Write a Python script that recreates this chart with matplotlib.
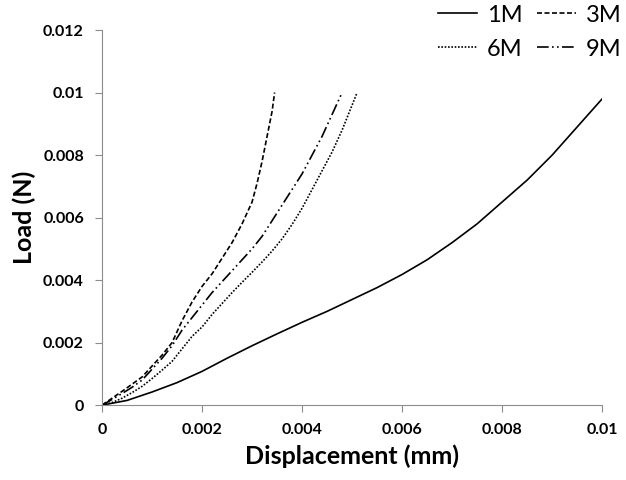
import matplotlib.pyplot as plt

plt.rcParams['font.family'] = ['Lato', 'DejaVu Sans']

# load-displacement curves
x_1m = [0, 0.0005, 0.001, 0.0015, 0.002, 0.0025, 0.003, 0.0035, 0.004, 0.0045, 0.005,
        0.0055, 0.006, 0.0065, 0.007, 0.0075, 0.008, 0.0085, 0.009, 0.0095, 0.01]
y_1m = [0, 0.00015, 0.00042, 0.00072, 0.00108, 0.0015, 0.0019, 0.00228, 0.00265, 0.003, 0.00338,
        0.00376, 0.00418, 0.00465, 0.0052, 0.0058, 0.0065, 0.0072, 0.008, 0.0089, 0.0098]

x_3m = [0, 0.0002, 0.0004, 0.0006, 0.0008, 0.001, 0.0012, 0.0014, 0.0016, 0.0018, 0.002,
        0.0022, 0.0024, 0.0026, 0.0028, 0.003, 0.0031, 0.0032, 0.0033, 0.0034, 0.00345]
y_3m = [0, 0.00022, 0.00044, 0.00067, 0.0009, 0.00125, 0.0016, 0.002, 0.0027, 0.0033, 0.0038,
        0.0042, 0.0047, 0.0052, 0.0058, 0.0065, 0.0071, 0.0078, 0.0086, 0.0094, 0.01]

x_6m = [0, 0.0002, 0.0004, 0.0006, 0.0008, 0.001, 0.0012, 0.0014, 0.0016, 0.0018, 0.002,
        0.0022, 0.0024, 0.0026, 0.0028, 0.003, 0.0032, 0.0034, 0.0036, 0.0038, 0.004,
        0.0042, 0.0044, 0.0046, 0.0048, 0.005, 0.0051]
y_6m = [0, 0.00008, 0.00022, 0.0004, 0.0006, 0.00085, 0.00112, 0.0014, 0.0018, 0.0022, 0.0025,
        0.0029, 0.00325, 0.0036, 0.00393, 0.00425, 0.00458, 0.00493, 0.00532, 0.00578, 0.0063,
        0.0069, 0.0075, 0.0081, 0.0088, 0.0096, 0.01]

x_9m = [0, 0.0002, 0.0004, 0.0006, 0.0008, 0.001, 0.0012, 0.0014, 0.0016, 0.0018, 0.002,
        0.0022, 0.0024, 0.0026, 0.0028, 0.003, 0.0032, 0.0034, 0.0036, 0.0038, 0.004,
        0.0042, 0.0044, 0.0046, 0.0048]
y_9m = [0, 0.00018, 0.00037, 0.00057, 0.0008, 0.00115, 0.0015, 0.0019, 0.0024, 0.0028, 0.0032,
        0.0036, 0.00395, 0.0043, 0.00465, 0.005, 0.0054, 0.0059, 0.0064, 0.0069, 0.0074,
        0.008, 0.0086, 0.0093, 0.01]

labels = ['1M', '3M', '6M', '9M']
x_ticks = [0, 0.002, 0.004, 0.006, 0.008, 0.01]
x_tick_labels = ['0', '0.002', '0.004', '0.006', '0.008', '0.01']
y_ticks = [0, 0.002, 0.004, 0.006, 0.008, 0.01, 0.012]
y_tick_labels = ['0', '0.002', '0.004', '0.006', '0.008', '0.01', '0.012']

fig = plt.figure(figsize=(6.26, 4.8), dpi=100)
ax = fig.add_axes([0.163, 0.156, 0.799, 0.7815])

lw = 1.2
l1, = ax.plot(x_1m, y_1m, color='black', lw=lw, ls='-', label=labels[0])
l3, = ax.plot(x_3m, y_3m, color='black', lw=lw, ls=(0, (3, 1.5)), label=labels[1])
l6, = ax.plot(x_6m, y_6m, color='black', lw=lw, ls=(0, (1, 1)), label=labels[2])
l9, = ax.plot(x_9m, y_9m, color='black', lw=lw, ls=(0, (7, 2, 1, 2, 1, 2)), label=labels[3])

ax.set_xlim(0, 0.01)
ax.set_ylim(0, 0.012)
ax.set_xticks(x_ticks)
ax.set_xticklabels(x_tick_labels)
ax.set_yticks(y_ticks)
ax.set_yticklabels(y_tick_labels)
for lab in ax.get_xticklabels() + ax.get_yticklabels():
    lab.set_fontweight('bold')
    lab.set_fontsize(11.5)

for s in ['top', 'right']:
    ax.spines[s].set_visible(False)
for s in ['left', 'bottom']:
    ax.spines[s].set_color('#8c8c8c')
ax.tick_params(direction='out', length=5, color='#8c8c8c', pad=8)

ax.set_xlabel('Displacement (mm)', fontsize=18, fontweight='bold', labelpad=5)
ax.set_ylabel('Load (N)', fontsize=18, fontweight='bold', labelpad=5)

# column-wise fill: 1M/6M left, 3M/9M right
fig.legend([l1, l6, l3, l9], [labels[0], labels[2], labels[1], labels[3]],
           ncol=2, loc='upper right', bbox_to_anchor=(1.0, 1.0), frameon=False,
           fontsize=17, handlelength=1.65, columnspacing=0.6, handletextpad=0.42,
           labelspacing=0.55, borderpad=0.1, borderaxespad=0.1)

fig.savefig('out.png', dpi=100)
